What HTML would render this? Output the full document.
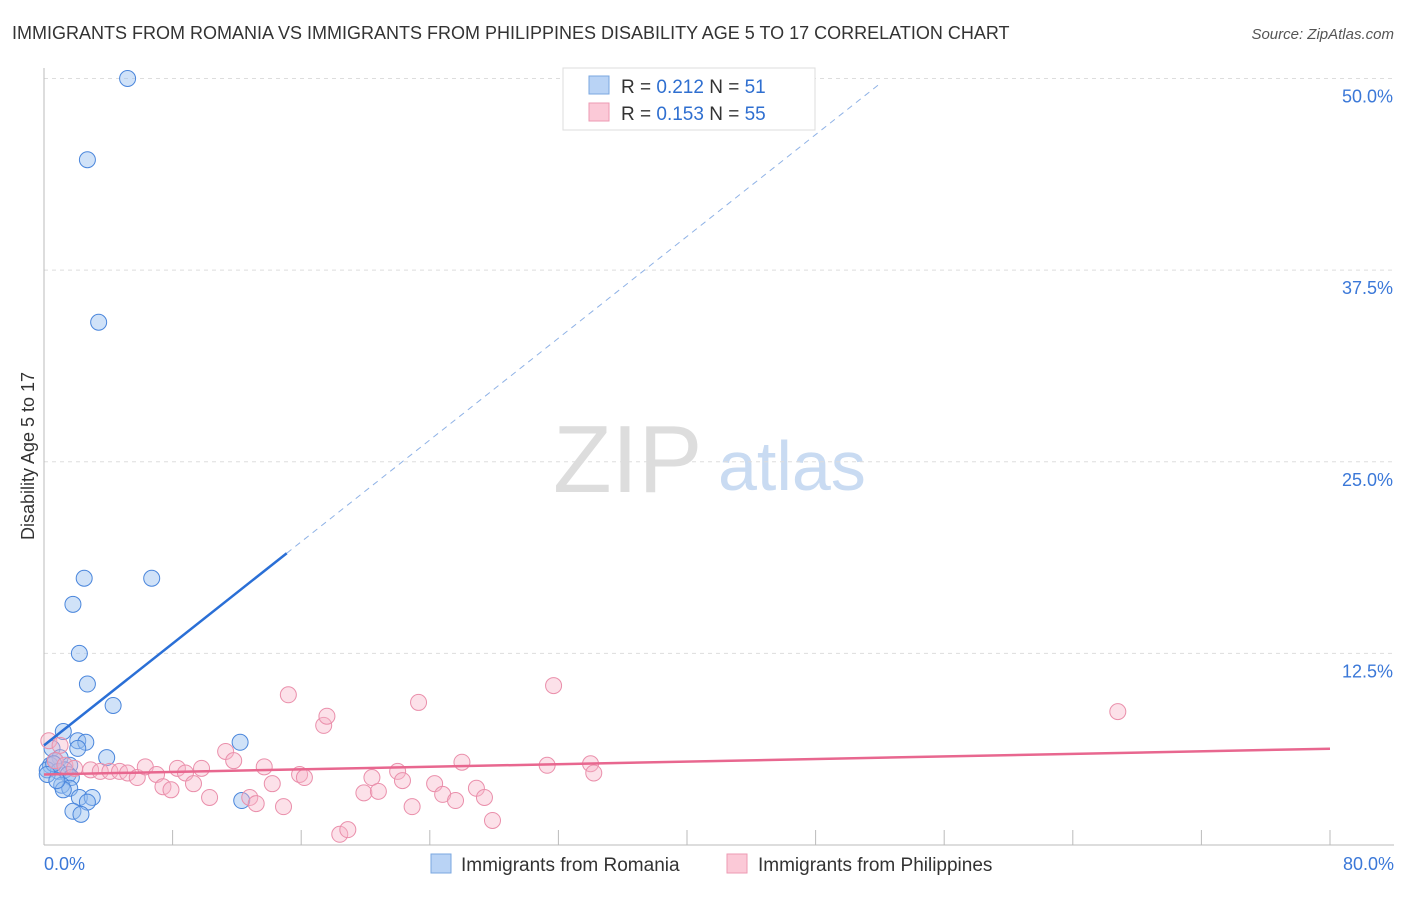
<!DOCTYPE html>
<html><head><meta charset="utf-8"><style>
body{margin:0;background:#fff;font-family:"Liberation Sans",sans-serif}
svg text{font-family:"Liberation Sans",sans-serif}
</style></head><body>
<svg id="chart" width="1406" height="892">
<text x="12" y="39" font-size="18" fill="#333">IMMIGRANTS FROM ROMANIA VS IMMIGRANTS FROM PHILIPPINES DISABILITY AGE 5 TO 17 CORRELATION CHART</text>
<text x="1394" y="39" font-size="15" fill="#555" font-style="italic" text-anchor="end">Source: ZipAtlas.com</text>
<text x="553" y="492" font-size="96" fill="#ddd" font-family="Liberation Serif">ZIP</text>
<text x="718" y="490" font-size="70" fill="#c9dbf2">atlas</text>
<text transform="translate(34,456) rotate(-90)" font-size="18" fill="#333" text-anchor="middle">Disability Age 5 to 17</text>
<g id="grid"></g><g id="axes"></g><g id="pts"></g><g id="trend"></g>
<g>
<rect x="563" y="68" width="252" height="62" fill="#fff" stroke="#ddd"/>
<rect x="589" y="76" width="20" height="18" fill="#b9d3f5" stroke="#7aa7e0"/>
<rect x="589" y="103" width="20" height="18" fill="#fbc9d7" stroke="#ee9ab3"/>
<text x="621" y="93" font-size="19" fill="#333">R = <tspan fill="#2f6fd0">0.212</tspan>   N =  <tspan fill="#2f6fd0">51</tspan></text>
<text x="621" y="120" font-size="19" fill="#333">R = <tspan fill="#2f6fd0">0.153</tspan>   N = <tspan fill="#2f6fd0">55</tspan></text>
</g>
<g>
<rect x="431" y="854" width="20" height="19" fill="#b9d3f5" stroke="#7aa7e0"/>
<text x="461" y="871" font-size="19" fill="#333">Immigrants from Romania</text>
<rect x="727" y="854" width="20" height="19" fill="#fbc9d7" stroke="#ee9ab3"/>
<text x="758" y="871" font-size="19" fill="#333">Immigrants from Philippines</text>
</g>
</svg>
<script>
const yTicks=[12.5,25,37.5,50];
const yTickLabels=["12.5%","25.0%","37.5%","50.0%"];
const xTickLabels=["0.0%","80.0%"];
const romaniaX=[5.2,2.7,3.4,2.5,6.7,1.8,2.2,2.7,4.3,12.2,1.2,2.1,2.6,3.9,2.1,0.5,1.0,0.4,0.7,0.2,1.6,1.3,0.9,1.5,1.7,1.1,1.6,1.2,2.2,3.0,2.7,1.8,2.3,12.3,0.6,0.2,0.8];
const romaniaY=[50.0,44.7,34.1,17.4,17.4,15.7,12.5,10.5,9.1,6.7,7.4,6.8,6.7,5.7,6.3,6.3,5.7,5.2,5.5,4.9,5.2,4.9,4.8,4.6,4.4,3.9,3.7,3.6,3.1,3.1,2.8,2.2,2.0,2.9,5.3,4.6,4.2];
const philX=[0.3,1.0,0.7,1.3,1.9,2.9,3.5,4.1,4.7,5.2,5.8,6.3,7.0,7.4,7.9,8.3,8.8,9.3,9.8,10.3,11.3,11.8,12.8,13.2,13.7,14.2,14.9,15.2,15.9,16.2,17.4,17.6,18.4,18.9,19.9,20.4,20.8,22.0,22.3,22.9,23.3,24.3,24.8,25.6,26.0,26.9,27.4,27.9,31.3,31.7,34.0,34.2,66.8];
const philY=[6.8,6.5,5.5,5.2,5.0,4.9,4.8,4.8,4.8,4.7,4.4,5.1,4.6,3.8,3.6,5.0,4.7,4.0,5.0,3.1,6.1,5.5,3.1,2.7,5.1,4.0,2.5,9.8,4.6,4.4,7.8,8.4,0.7,1.0,3.4,4.4,3.5,4.8,4.2,2.5,9.3,4.0,3.3,2.9,5.4,3.7,3.1,1.6,5.2,10.4,5.3,4.7,8.7];
const romaniaTrend=[6.5,0.83];
const philTrend=[4.6,0.021];
const X=v=>44+v*16.075, Y=v=>845-v*15.33;
const NS="http://www.w3.org/2000/svg";
function mk(t,a,p){const e=document.createElementNS(NS,t);for(const k in a)e.setAttribute(k,a[k]);document.getElementById(p).appendChild(e);return e;}
yTicks.forEach((t,i)=>{
 const g=mk('line',{x1:44,x2:1394,y1:Y(t),y2:Y(t),stroke:'#ddd','stroke-dasharray':'4,4'},'grid');
 
 
 const l=mk('text',{x:1393,y:Y(t)+24,'font-size':18,fill:'#3b78d8','text-anchor':'end'},'grid');
 l.textContent=yTickLabels[i];
 
 
});
const ax=mk('line',{x1:44,x2:44,y1:68,y2:845,stroke:'#bbb'},'axes');


const bx=mk('line',{x1:44,x2:1394,y1:845,y2:845,stroke:'#bbb'},'axes');


for(let i=0;i<=10;i++){const t=mk('line',{x1:X(i*8),x2:X(i*8),y1:830,y2:845,stroke:'#bbb'},'axes');
 
 }
[[0,'start'],[80,'end']].forEach((d,i)=>{const t=mk('text',{x:i?1394:44,y:870,'font-size':18,fill:'#3b78d8','text-anchor':d[1]},'axes');t.textContent=xTickLabels[i];
 
 });
romaniaX.forEach((v,i)=>{const c=mk('circle',{cx:X(v),cy:Y(romaniaY[i]),r:8,fill:'rgba(150,190,240,0.45)',stroke:'#4a86dc','stroke-width':1},'pts');
 
 });
philX.forEach((v,i)=>{const c=mk('circle',{cx:X(v),cy:Y(philY[i]),r:8,fill:'rgba(248,180,200,0.4)',stroke:'#ea8fab','stroke-width':1},'pts');
 
 });
const rt=v=>romaniaTrend[0]+romaniaTrend[1]*v;
const l1=mk('line',{x1:X(0),y1:Y(rt(0)),x2:X(15.1),y2:Y(rt(15.1)),stroke:'#2a6fd6','stroke-width':2.5},'trend');


const l2=mk('line',{x1:X(15.1),y1:Y(rt(15.1)),x2:X(52),y2:Y(rt(52)),stroke:'#8fb2e6','stroke-width':1,'stroke-dasharray':'6,5'},'trend');


const pt=v=>philTrend[0]+philTrend[1]*v;
const l3=mk('line',{x1:X(0),y1:Y(pt(0)),x2:X(80),y2:Y(pt(80)),stroke:'#e8678f','stroke-width':2.5},'trend');


</script>
</body></html>
